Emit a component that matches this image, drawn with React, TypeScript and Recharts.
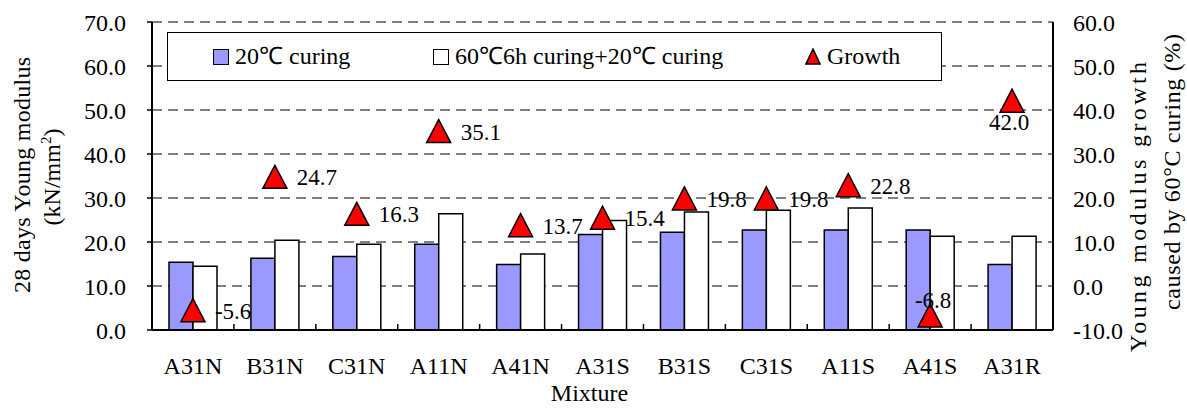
import React from 'react';
import { ComposedChart, Bar, Scatter, XAxis, YAxis, CartesianGrid, Legend } from 'recharts';

// ─── data ────────────────────────────────────────────────────────────────────
const mixtures = ['A31N', 'B31N', 'C31N', 'A11N', 'A41N', 'A31S', 'B31S', 'C31S', 'A11S', 'A41S', 'A31R'];
const modulus20 = [15.4, 16.3, 16.7, 19.5, 14.9, 21.7, 22.2, 22.7, 22.7, 22.7, 14.9];
const modulus60 = [14.5, 20.4, 19.5, 26.4, 17.3, 24.9, 26.8, 27.2, 27.7, 21.3, 21.3];
const growth = [-5.6, 24.7, 16.3, 35.1, 13.7, 15.4, 19.8, 19.8, 22.8, -6.8, 42.0];

const leftTicks = [0, 10, 20, 30, 40, 50, 60, 70];
const rightTicks = [-10, 0, 10, 20, 30, 40, 50, 60];

const seriesNames = ['20℃ curing', '60℃6h curing+20℃ curing', 'Growth'];

// labels that don't sit to the right of their triangle
const labelPlacement: Record<string, 'top' | 'bottom'> = { A41S: 'top', A31R: 'bottom' };

const rows = mixtures.map((m, i) => ({
  mixture: m,
  c20: modulus20[i],
  c60: modulus60[i],
  growth: growth[i],
}));

// ─── layout / style ──────────────────────────────────────────────────────────
const FONT = '"Liberation Serif", "Times New Roman", serif';
const W = 1187;
const H = 408;
const LEFT_W = 152;
const RIGHT_W = 134;
const BAND_HALF = (W - LEFT_W - RIGHT_W) / mixtures.length / 2;
const BLUE = '#9999FF';
const RED = '#FF0000';

const XTick = (props: any) => {
  const { x, y, payload, index } = props;
  return (
    <g>
      {index > 0 && (
        <line x1={x - BAND_HALF} x2={x - BAND_HALF} y1={y} y2={y - 6} stroke="#000" strokeWidth={1.5} />
      )}
      <text x={x} y={y + 44} textAnchor="middle" fontSize={24} fontFamily={FONT} fill="#000">
        {payload.value}
      </text>
    </g>
  );
};

const GrowthMark = (props: any) => {
  const { cx, cy, payload } = props;
  if (cx == null || cy == null) return null;
  const place = labelPlacement[payload.mixture];
  let tx = cx + 22;
  let ty = cy + 8;
  let anchor: 'start' | 'middle' = 'start';
  if (place === 'top') { tx = cx + 3; ty = cy - 8; anchor = 'middle'; }
  if (place === 'bottom') { tx = cx - 3; ty = cy + 29; anchor = 'middle'; }
  return (
    <g>
      <polygon
        points={`${cx},${cy - 12} ${cx - 12},${cy + 11} ${cx + 12},${cy + 11}`}
        fill={RED}
        stroke="#000"
        strokeWidth={1.5}
      />
      <text x={tx} y={ty} textAnchor={anchor} fontSize={23} fontFamily={FONT} fill="#000">
        {payload.growth.toFixed(1)}
      </text>
    </g>
  );
};

const leftTitle = () => (
  <g fontFamily={FONT} fontSize={24} fill="#000">
    <text x={30} y={175} transform="rotate(-90 30 175)" textAnchor="middle" textLength={236} lengthAdjust="spacing">
      28 days Young modulus
    </text>
    <text x={60} y={177} transform="rotate(-90 60 177)" textAnchor="middle">
      (kN/mm<tspan dy={-9} fontSize={15}>2</tspan><tspan dy={9}>)</tspan>
    </text>
  </g>
);

const rightTitle = () => (
  <g fontFamily={FONT} fontSize={24} fill="#000">
    <text x={1146} y={207} transform="rotate(-90 1146 207)" textAnchor="middle" textLength={290} lengthAdjust="spacing">
      Young modulus growth
    </text>
    <text x={1180} y={172} transform="rotate(-90 1180 172)" textAnchor="middle" textLength={276} lengthAdjust="spacing">
      caused by 60°C curing (%)
    </text>
  </g>
);

const xTitle = (props: any) => {
  const vb = props.viewBox || { x: LEFT_W, y: 330, width: W - LEFT_W - RIGHT_W };
  return (
    <text x={vb.x + vb.width / 2 - 13} y={vb.y + 71} textAnchor="middle" fontSize={24} fontFamily={FONT} fill="#000">
      Mixture
    </text>
  );
};

const swatch: React.CSSProperties = {
  position: 'absolute', top: 16, width: 16, height: 16, boxSizing: 'border-box', border: '1.5px solid #000',
};
const label: React.CSSProperties = { position: 'absolute', top: 0, lineHeight: '46px', whiteSpace: 'nowrap' };

const LegendBox = () => (
  <div
    style={{
      position: 'relative', width: 775, height: 49, boxSizing: 'border-box', border: '1.5px solid #000',
      background: '#fff', fontFamily: FONT, fontSize: 24, color: '#000',
    }}
  >
    <span style={{ ...swatch, left: 45, background: BLUE }} />
    <span style={{ ...label, left: 67 }}>{seriesNames[0]}</span>
    <span style={{ ...swatch, left: 265, background: '#fff' }} />
    <span style={{ ...label, left: 287 }}>{seriesNames[1]}</span>
    <svg style={{ position: 'absolute', left: 637, top: 15 }} width={16} height={17}>
      <polygon points="8,1 1,16 15,16" fill={RED} stroke="#000" strokeWidth={1.5} />
    </svg>
    <span style={{ ...label, left: 659 }}>{seriesNames[2]}</span>
  </div>
);

export default function App() {
  return (
    <div style={{ position: 'absolute', left: 0, top: 0, width: W, height: H, background: '#fff', fontFamily: FONT }}>
      <ComposedChart width={W} height={H} data={rows} margin={{ top: 22, right: 0, bottom: 0, left: 0 }}
        barCategoryGap={17} barGap={0}>
        <CartesianGrid yAxisId="left" vertical={false} stroke="#000" strokeWidth={1} strokeDasharray="10 6" />
        <XAxis dataKey="mixture" height={78} tickSize={0} tickMargin={0} tick={<XTick />} interval={0}
          axisLine={{ stroke: '#000', strokeWidth: 2 }} tickLine={false} label={xTitle} />
        <XAxis xAxisId="top" dataKey="mixture" orientation="top" height={0} tick={false} tickLine={false}
          axisLine={{ stroke: '#000', strokeWidth: 2 }} />
        <YAxis yAxisId="left" width={LEFT_W} domain={[0, 70]} ticks={leftTicks} interval={0}
          tickFormatter={(v: number) => v.toFixed(1)} tickSize={5} tickMargin={21}
          tick={{ fontSize: 24, fontFamily: FONT, fill: '#000' }}
          tickLine={{ stroke: '#000', strokeWidth: 1.5 }} axisLine={{ stroke: '#000', strokeWidth: 2 }}
          label={leftTitle} />
        <YAxis yAxisId="right" orientation="right" width={RIGHT_W} domain={[-10, 60]} ticks={rightTicks} interval={0}
          tickFormatter={(v: number) => v.toFixed(1)} tickSize={0} tickMargin={20}
          tick={{ fontSize: 24, fontFamily: FONT, fill: '#000' }}
          tickLine={false} axisLine={{ stroke: '#000', strokeWidth: 2 }}
          label={rightTitle} />
        <Legend layout="horizontal" verticalAlign="middle" align="center"
          wrapperStyle={{ left: 167, top: 32, width: 775, height: 49 }} content={<LegendBox />} />
        <Bar yAxisId="left" dataKey="c20" name={seriesNames[0]} fill={BLUE} stroke="#000" strokeWidth={1.5}
          isAnimationActive={false} />
        <Bar yAxisId="left" dataKey="c60" name={seriesNames[1]} fill="#fff" stroke="#000" strokeWidth={1.5}
          isAnimationActive={false} />
        <Scatter yAxisId="right" dataKey="growth" name={seriesNames[2]} shape={GrowthMark}
          isAnimationActive={false} />
      </ComposedChart>
    </div>
  );
}
